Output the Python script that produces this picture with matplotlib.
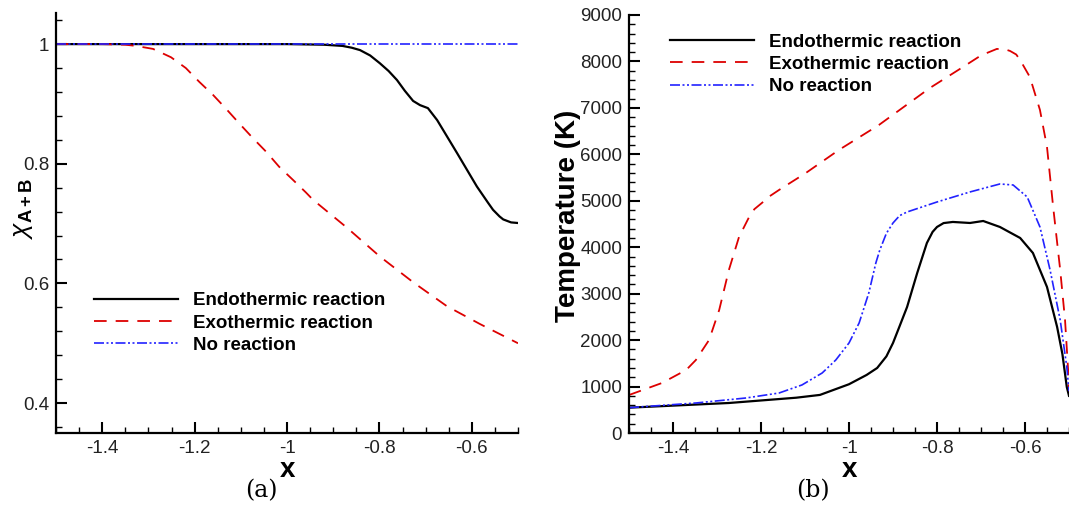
import matplotlib
matplotlib.use("Agg")
import matplotlib.pyplot as plt
from matplotlib.ticker import MultipleLocator, FuncFormatter

plt.rcParams['font.family'] = ['Liberation Sans', 'DejaVu Sans']
plt.rcParams['mathtext.fontset'] = 'custom'
plt.rcParams['mathtext.rm'] = 'Liberation Sans'
plt.rcParams['mathtext.it'] = 'Liberation Sans:italic'
plt.rcParams['mathtext.bf'] = 'Liberation Sans:bold'

labels = ["Endothermic reaction", "Exothermic reaction", "No reaction"]

# ---- panel (a): chi_{A+B} vs x ----
xa_endo = [-1.5, -1.2, -1.0, -0.92, -0.88, -0.86, -0.842, -0.82, -0.799, -0.78, -0.762,
           -0.745, -0.727, -0.712, -0.695, -0.675, -0.632, -0.589, -0.565, -0.554,
           -0.54, -0.532, -0.515, -0.5]
ya_endo = [1.0, 1.0, 1.0, 0.999, 0.997, 0.994, 0.990, 0.981, 0.968, 0.955, 0.94,
           0.922, 0.905, 0.898, 0.893, 0.873, 0.818, 0.762, 0.735, 0.723,
           0.712, 0.707, 0.702, 0.701]
xa_exo = [-1.5, -1.4, -1.35, -1.327, -1.29, -1.251, -1.219, -1.19, -1.16, -1.132, -1.104,
          -1.074, -1.045, -1.017, -0.987, -0.959, -0.944, -0.870, -0.799, -0.727,
          -0.654, -0.582, -0.5]
ya_exo = [1.0, 1.0, 0.999, 0.997, 0.992, 0.978, 0.96, 0.937, 0.915, 0.892, 0.868,
          0.843, 0.82, 0.795, 0.773, 0.752, 0.74, 0.693, 0.645, 0.602,
          0.562, 0.532, 0.50]
xa_none = [-1.5, -0.5]
ya_none = [1.0, 1.0]

# ---- panel (b): temperature vs x ----
xb_endo = [-1.5, -1.273, -1.12, -1.066, -1.0, -0.96, -0.936, -0.915, -0.9, -0.885,
           -0.868, -0.845, -0.823, -0.81, -0.8, -0.785, -0.764, -0.725, -0.695,
           -0.657, -0.611, -0.582, -0.55, -0.527, -0.515, -0.505, -0.5]
Tb_endo = [545, 646, 760, 820, 1050, 1250, 1400, 1650, 1938, 2300,
           2713, 3445, 4091, 4330, 4436, 4520, 4544, 4522, 4565,
           4436, 4199, 3876, 3144, 2283, 1700, 990, 800]
xb_exo = [-1.5, -1.425, -1.37, -1.348, -1.318, -1.295, -1.273, -1.25, -1.227, -1.215,
          -1.198, -1.18, -1.159, -1.098, -1.023, -0.932, -0.816, -0.741, -0.7, -0.664,
          -0.645, -0.634, -0.62, -0.611, -0.589, -0.566, -0.55, -0.536, -0.52, -0.509,
          -0.502, -0.5]
Tb_exo = [818, 1077, 1357, 1572, 2003, 2649, 3510, 4220, 4651, 4820,
          4953, 5100, 5233, 5599, 6094, 6632, 7430, 7880, 8130, 8270,
          8260, 8226, 8150, 8030, 7666, 6955, 6158, 4867, 3510, 2433,
          1357, 900]
xb_none = [-1.5, -1.348, -1.234, -1.159, -1.107, -1.061, -1.03, -1.0, -0.977, -0.955,
           -0.939, -0.93, -0.915, -0.9, -0.885, -0.868, -0.8, -0.725, -0.657, -0.627,
           -0.595, -0.566, -0.543, -0.52, -0.505, -0.5]
Tb_none = [545, 646, 754, 861, 1034, 1292, 1572, 1938, 2369, 3015,
           3661, 3940, 4300, 4522, 4680, 4759, 4974, 5190, 5362, 5340,
           5082, 4436, 3510, 2433, 1421, 900]

xticks = [-1.4, -1.2, -1.0, -0.8, -0.6]
yticks_a = [0.4, 0.6, 0.8, 1.0]
yticks_b = [0, 1000, 2000, 3000, 4000, 5000, 6000, 7000, 8000, 9000]

RED = '#dd0000'
BLUE = '#2222ff'
styles = [
    dict(color='black', lw=1.6, ls='-'),
    dict(color=RED, lw=1.3, ls=(0, (7, 5))),
    dict(color=BLUE, lw=1.2, ls=(0, (6, 1.5, 1.2, 1.5, 1.2, 1.5))),
]

W, H = 1069, 521
fig = plt.figure(figsize=(W / 100, H / 100), dpi=100)
axa = fig.add_axes([56 / W, 1 - 433 / H, 462 / W, 420 / H])
axb = fig.add_axes([629 / W, 1 - 433 / H, 440 / W, 418 / H])

def fmt(v, pos):
    s = ('%.1f' % v)
    if s.endswith('.0'):
        s = s[:-2]
    return s

for ax in (axa, axb):
    for sp in ('top', 'right'):
        ax.spines[sp].set_visible(False)
    for sp in ('left', 'bottom'):
        ax.spines[sp].set_linewidth(1.6)
    ax.tick_params(which='major', direction='in', length=8, width=1.5,
                   labelsize=13.5, labelcolor='#222222', pad=5)
    ax.tick_params(which='minor', direction='in', length=4.5, width=1.0)
    ax.set_xlim(-1.5, -0.5)
    ax.set_xticks(xticks)
    ax.xaxis.set_minor_locator(MultipleLocator(0.05))
    ax.xaxis.set_major_formatter(FuncFormatter(fmt))
    ax.set_xlabel('x', fontsize=20, fontweight='bold', labelpad=0)

leg_kw = dict(loc='center left', frameon=False, borderpad=0, borderaxespad=0,
              handlelength=4.5, handletextpad=0.8, labelspacing=0.28,
              prop=dict(size=13.5, weight='bold'))

# panel a
hs = []
for (xx, yy), st in zip([(xa_endo, ya_endo), (xa_exo, ya_exo), (xa_none, ya_none)], styles):
    h, = axa.plot(xx, yy, **st)
    hs.append(h)
axa.set_ylim(0.35, 1.052)
axa.set_yticks(yticks_a)
axa.yaxis.set_minor_locator(MultipleLocator(0.04))
axa.yaxis.set_major_formatter(FuncFormatter(fmt))
axa.set_ylabel(r'$\chi_{\mathbf{A+B}}$', fontsize=19)
axa.yaxis.set_label_coords(-0.045, 0.535)
axa.legend(hs, labels, bbox_to_anchor=(0.082, 0.262), **leg_kw)

# panel b
hs = []
for (xx, yy), st in zip([(xb_endo, Tb_endo), (xb_exo, Tb_exo), (xb_none, Tb_none)], styles):
    h, = axb.plot(xx, yy, **st)
    hs.append(h)
axb.set_ylim(0, 9000)
axb.set_yticks(yticks_b)
axb.yaxis.set_minor_locator(MultipleLocator(200))
axb.set_ylabel('Temperature (K)', fontsize=20, fontweight='bold')
axb.yaxis.set_label_coords(-0.108, 0.52)
axb.legend(hs, labels, bbox_to_anchor=(0.093, 0.882), **leg_kw)

fig.text(261 / W, 1 - 491 / H, '(a)', ha='center', va='center', fontsize=17,
         family='DejaVu Serif')
fig.text(813 / W, 1 - 491 / H, '(b)', ha='center', va='center', fontsize=17,
         family='DejaVu Serif')

fig.savefig('out.png', dpi=100)
